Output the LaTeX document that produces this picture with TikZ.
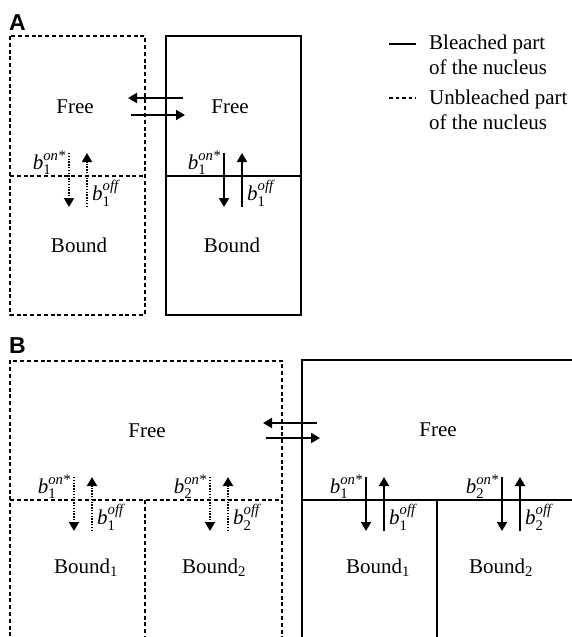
\documentclass[tikz,border=0pt]{standalone}
\usepackage{amsmath}
\usepackage{fontspec}
\setmainfont{Liberation Serif}
\setsansfont{Liberation Sans}
\usetikzlibrary{arrows.meta}

% one pair of binding/unbinding arrows across a divider
\newcommand{\ratepair}[5]{%
  \coordinate (#1dt) at (#2,#3-23);
  \coordinate (#1db) at (#2,#3+31);
  \coordinate (#1ub) at (#2+18,#3+31);
  \coordinate (#1ut) at (#2+18,#3-23);
  \draw[rate,#5] (#1dt) -- (#1db);
  \draw[rate,#5] (#1ub) -- (#1ut);
  \node[anchor=east] (#1on) at (#2-3,#3-13) {$\textit{b}_{\text{#4}}^{\textit{on*}}$};
  \node[anchor=west] (#1off) at (#2+23,#3+17) {$\textit{b}_{\text{#4}}^{\textit{off}}$};
}

\begin{document}
\begin{tikzpicture}[
    x=1pt, y=-1pt,
    every node/.style={font=\fontsize{21}{25}\selectfont, inner sep=0pt},
    bleached/.style={line width=1.5pt},
    unbleached/.style={line width=1.5pt, dash pattern=on 4pt off 2.8pt},
    rate/.style={line width=1.9pt, -{Triangle[width=10pt,length=9pt]}},
    dotline/.style={dash pattern=on 1.4pt off 1.4pt},
    panel/.style={font=\fontsize{23}{23}\selectfont\sffamily\bfseries}
  ]
    \useasboundingbox (0,0) rectangle (571,637);

    % panel A
    \node[panel, anchor=base west] (labA) at (9,30) {A};
    \draw[unbleached] (10,36) rectangle (145,315);
    \draw[unbleached] (10,176) -- (145,176);
    \draw[bleached] (166,36) rectangle (301,315);
    \draw[bleached] (166,176) -- (301,176);

    \node (freeAu) at (75,107) {Free};
    \node (freeAb) at (230,107) {Free};
    \node (boundAu) at (79,245) {Bound};
    \node (boundAb) at (232,245) {Bound};

    \coordinate (xAa) at (183,98);
    \coordinate (xAb) at (128,98);
    \coordinate (xAc) at (131,115);
    \coordinate (xAd) at (185,115);
    \draw[rate] (xAa) -- (xAb);
    \draw[rate] (xAc) -- (xAd);

    \ratepair{au}{69}{176}{1}{dotline}
    \ratepair{ab}{224}{176}{1}{}

    % legend
    \coordinate (lgA) at (389,44);
    \coordinate (lgB) at (416,44);
    \coordinate (lgC) at (389,98);
    \coordinate (lgD) at (416,98);
    \draw[bleached] (lgA) -- (lgB);
    \draw[line width=1.3pt, dash pattern=on 3.5pt off 3pt] (lgC) -- (lgD);
    \node[anchor=north west, align=left] (legbl) at (429,35) {Bleached part\\of the nucleus};
    \node[anchor=north west, align=left] (legun) at (429,90) {Unbleached part\\of the nucleus};

    % panel B
    \node[panel, anchor=base west] (labB) at (9,353) {B};
    \draw[unbleached] (10,650) -- (10,361) -- (282,361) -- (282,650);
    \draw[unbleached] (10,500) -- (282,500);
    \draw[unbleached] (145,500) -- (145,650);
    \draw[bleached] (302,650) -- (302,360) -- (580,360);
    \draw[bleached] (302,500) -- (580,500);
    \draw[bleached] (437,500) -- (437,650);

    \node (freeBu) at (147,431) {Free};
    \node (freeBb) at (438,430) {Free};
    \node (boundBu1) at (86,568) {Bound$_{\text{1}}$};
    \node (boundBu2) at (214,568) {Bound$_{\text{2}}$};
    \node (boundBb1) at (378,568) {Bound$_{\text{1}}$};
    \node (boundBb2) at (501,568) {Bound$_{\text{2}}$};

    \coordinate (xBa) at (317,423);
    \coordinate (xBb) at (263,423);
    \coordinate (xBc) at (266,438);
    \coordinate (xBd) at (320,438);
    \draw[rate] (xBa) -- (xBb);
    \draw[rate] (xBc) -- (xBd);

    \ratepair{bu1}{74}{500}{1}{dotline}
    \ratepair{bu2}{210}{500}{2}{dotline}
    \ratepair{bb1}{366}{500}{1}{}
    \ratepair{bb2}{502}{500}{2}{}
  \end{tikzpicture}
\end{document}
